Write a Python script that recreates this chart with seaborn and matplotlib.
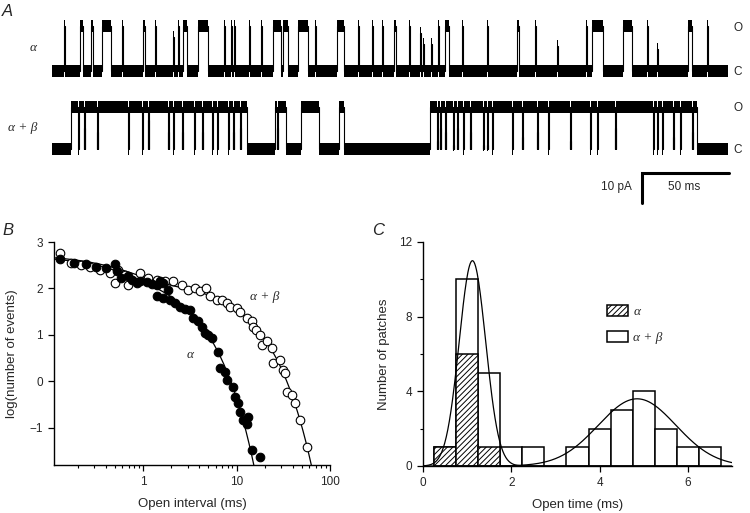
import numpy as np
import matplotlib
matplotlib.use('Agg')
import matplotlib.pyplot as plt
import seaborn as sns
from matplotlib.patches import Patch
from matplotlib.ticker import LogLocator, NullFormatter, FixedLocator
from matplotlib.font_manager import FontProperties

sns.set_theme(style='ticks')
plt.rcParams['font.family'] = ['Liberation Sans', 'DejaVu Sans']
plt.rcParams['hatch.linewidth'] = 0.7

# ---------------- Panel A: single channel records (ms, fraction of unitary current)
trace_len = 388.5
# alpha: brief openings (time, fraction open) and longer openings (start, end)
alpha_spike_t = [6.9, 40.2, 59.2, 69.5, 72.4, 98.9, 102.9, 104.6, 113.2, 120.1, 151.1,
                 175.9, 183.9, 189.7, 205.2, 211.5, 213.2, 217.8, 221.8, 235.6, 250.0,
                 277.6, 290.2, 306.9, 341.9, 347.7, 376.4]
alpha_spike_h = [1, 1, 1, 0.75, 1, 1, 1, 1, 1, 1, 1,
                 1, 1, 1, 1, 0.85, 0.6, 0.6, 1, 1, 1,
                 1, 0.55, 1, 1, 0.5, 1]
alpha_bursts = [(16.1, 17.8), (22.4, 23.6), (28.7, 33.9), (52.3, 53.4), (75.3, 77.6),
                (83.9, 89.7), (127.0, 131.6), (132.8, 135.6), (141.4, 147.1),
                (163.8, 167.8), (196.6, 197.7), (225.9, 228.2), (267.2, 268.4),
                (310.3, 316.7), (328.2, 333.3), (365.5, 367.8)]
# alpha + beta: long openings (start, end) and brief closures (time, depth)
ab_open = [(10.9, 112.1), (128.2, 134.5), (143.1, 153.4), (164.9, 167.8), (217.2, 370.7)]
ab_close_t = [14.9, 18.4, 25.9, 43.7, 51.7, 55.2, 66.7, 69.5, 74.7, 81.6,
              86.2, 92.0, 94.8, 101.1, 104.0, 108.0, 129.3, 221.3, 223.0, 225.9,
              230.5, 232.8, 236.2, 240.2, 247.7, 250.0, 252.9, 264.4, 270.1, 278.7,
              285.1, 297.7, 309.2, 313.2, 323.6, 345.4, 347.7, 350.6, 356.9, 360.9,
              367.8]
ab_close_d = [1, 0.5, 0.6, 1, 1, 0.3, 0.6, 1, 0.6, 1,
              0.6, 1, 1, 1, 0.6, 0.5, 0.5, 0.8, 0.5, 0.6,
              0.9, 0.5, 1, 0.6, 0.9, 0.9, 1, 1, 0.7, 0.6,
              1, 0.8, 1, 1, 0.5, 1, 1, 1, 0.7, 1,
              0.6]

# ---------------- Panel B: open interval distributions
alpha_t = [0.128, 0.18, 0.243, 0.316, 0.40, 0.497, 0.52, 0.586, 0.69, 0.75, 0.85, 0.92,
           1.09, 1.23, 1.39, 1.51, 1.64, 1.85, 1.39, 1.64, 1.93, 2.18, 2.47, 2.79, 3.16,
           3.43, 3.88, 4.22, 4.58, 4.97, 5.39, 6.35, 6.62, 7.47, 7.8, 9.2, 9.6, 10.4,
           10.8, 11.8, 13.3, 12.8, 14.5, 17.8]
alpha_logn = [2.63, 2.55, 2.53, 2.47, 2.45, 2.53, 2.37, 2.22, 2.27, 2.19, 2.12, 2.15,
              2.13, 2.10, 2.08, 2.15, 2.12, 1.97, 1.83, 1.79, 1.76, 1.68, 1.61, 1.55, 1.53,
              1.36, 1.29, 1.18, 1.04, 1.00, 0.93, 0.64, 0.28, 0.21, 0.03, -0.12, -0.33, -0.47,
              -0.65, -0.83, -0.76, -0.91, -1.48, -1.63]
ab_t = [0.128, 0.17, 0.218, 0.268, 0.344, 0.44, 0.54, 0.636, 0.497, 0.69, 0.92, 1.13,
        1.39, 1.71, 2.1, 2.58, 3.04, 3.58, 4.05, 4.65, 5.18, 6.1, 6.9, 7.8, 8.5, 10.0,
        10.8, 12.8, 14.5, 15.1, 16.3, 17.8, 18.5, 21.0, 23.7, 24.6, 29.0, 31.6, 32.8,
        34.3, 38.9, 42.1, 47.6, 56.3]
ab_logn = [2.76, 2.55, 2.51, 2.47, 2.40, 2.33, 2.40, 2.29, 2.12, 2.08, 2.33, 2.22,
           2.19, 2.15, 2.15, 2.08, 1.97, 2.01, 1.94, 2.01, 1.83, 1.76, 1.76, 1.68, 1.61, 1.58,
           1.50, 1.36, 1.29, 1.18, 1.11, 1.00, 0.78, 0.86, 0.71, 0.39, 0.46, 0.24, 0.17,
           -0.22, -0.29, -0.47, -0.83, -1.41]
# two-exponential fits: amplitude (events), time constant (ms)
alpha_fit = [(294, 0.38), (224, 1.6)]
ab_fit = [(394, 0.48), (148, 6.9)]

# ---------------- Panel C: mean open time per patch
ab_edges = [0.25, 0.75, 1.25, 1.75, 2.25, 2.75, 3.25, 3.75, 4.25, 4.75, 5.25, 5.75, 6.25, 6.75]
ab_centers = [0.5, 1.0, 1.5, 2.0, 2.5, 3.0, 3.5, 4.0, 4.5, 5.0, 5.5, 6.0, 6.5]
ab_counts = [1, 10, 5, 1, 1, 0, 1, 2, 3, 4, 2, 1, 1]
alpha_edges = [0.25, 0.75, 1.25, 1.75]
alpha_centers = [0.5, 1.0, 1.5]
alpha_counts = [1, 6, 1]
# gaussian fits: (amplitude, mean, sd)
gauss_fits = [(11.0, 1.12, 0.30), (3.6, 4.85, 0.88)]

W, H = 750, 513
fig = plt.figure(figsize=(W / 100, H / 100), dpi=100)


def fpos(x, y):
    return x / W, 1 - y / H


def build_path(pieces, t_end):
    xs, ys = [0.0], [0.0]
    for s, e, lv in pieces:
        xs += [s, e]
        ys += [lv, 0.0]
    xs.append(t_end)
    ys.append(0.0)
    return np.array(xs), np.array(ys)


dur = 0.6
pieces1 = [(t, t + dur, h) for t, h in zip(alpha_spike_t, alpha_spike_h)]
pieces1 += [(s, e, 1.0) for s, e in alpha_bursts]
pieces1.sort()

pieces2 = []
closures = sorted(zip(ab_close_t, ab_close_d))
for s, e in ab_open:
    cur = s
    for t, d in closures:
        if s < t < e:
            pieces2.append((cur, t, 1.0))
            pieces2.append((t, t + dur, 1.0 - d))
            cur = t + dur
    pieces2.append((cur, e, 1.0))

axA = fig.add_axes([52 / W, 1 - 210 / H, 676 / W, 210 / H])
axA.set_xlim(0, trace_len)
axA.set_ylim(-46.3, 23.7)
axA.axis('off')

noise = 2.0
for pieces, base, amp in [(pieces1, 0.0, 15.0), (pieces2, -26.0, 14.0)]:
    x, lv = build_path(pieces, trace_len)
    y = base + amp * lv
    axA.fill_between(x, y - noise, y + noise, step='post', color='black', lw=0)
    axA.step(x, y, where='post', color='black', lw=0.8)

# scale bar 50 ms / 10 pA
axA.plot([339, 339, 389], [-44, -34, -34], color='black', lw=2.2,
         solid_joinstyle='miter', clip_on=False)
axA.text(333, -38.5, '10 pA', ha='right', va='center', fontsize=8.5)
axA.text(363, -38.5, '50 ms', ha='center', va='center', fontsize=8.5)

greek = FontProperties(family='Liberation Serif', style='italic', size=9.5)
fig.text(*fpos(37, 48), 'α', ha='right', va='center', fontproperties=greek)
fig.text(*fpos(37, 128), 'α + β', ha='right', va='center', fontproperties=greek)
for yy, s in [(28, 'O'), (72, 'C'), (108, 'O'), (150, 'C')]:
    fig.text(*fpos(738, yy), s, ha='center', va='center', fontsize=8.5)

for xx, yy, s in [(2, 12, 'A'), (2, 231, 'B'), (372, 231, 'C')]:
    fig.text(*fpos(xx, yy), s, ha='left', va='center', fontsize=12, style='italic')

# ---------------- Panel B
axB = fig.add_axes([54 / W, 1 - 465 / H, 276 / W, 223 / H])
sns.scatterplot(x=ab_t, y=ab_logn, ax=axB, color='white', edgecolor='black',
                s=38, linewidth=0.8, zorder=3)
sns.scatterplot(x=alpha_t, y=alpha_logn, ax=axB, color='black', edgecolor='black',
                s=38, linewidth=0.8, zorder=4)
t_fit = np.geomspace(0.11, 100, 400)
for fit in [alpha_fit, ab_fit]:
    n = sum(a * np.exp(-t_fit / tau) for a, tau in fit)
    axB.plot(t_fit, np.log10(n), color='black', lw=0.9, zorder=2)
axB.set_xscale('log')
axB.set_xlim(0.111, 100)
axB.set_ylim(-1.8, 3.0)
axB.set_xticks([1, 10, 100])
axB.set_xticklabels(['1', '10', '100'])
axB.xaxis.set_minor_locator(LogLocator(base=10, subs=[2, 3, 4, 5, 6, 7, 8, 9]))
axB.xaxis.set_minor_formatter(NullFormatter())
axB.set_yticks([-1, 0, 1, 2, 3])
axB.set_xlabel('Open interval (ms)', fontsize=9.5, labelpad=7)
axB.set_ylabel('log(number of events)', fontsize=9.5, labelpad=8)
axB.text(3.2, 0.56, 'α', fontproperties=greek, ha='center', va='center')
axB.text(19.8, 1.81, 'α + β', fontproperties=greek, ha='center', va='center')

# ---------------- Panel C
axC = fig.add_axes([423 / W, 1 - 466 / H, 309 / W, 224 / H])
sns.histplot(x=ab_centers, weights=ab_counts, bins=ab_edges, ax=axC, color='white',
             edgecolor='black', linewidth=1.1, alpha=1)
n0 = len(axC.patches)
sns.histplot(x=alpha_centers, weights=alpha_counts, bins=alpha_edges, ax=axC,
             color='white', edgecolor='black', linewidth=1.1, alpha=1)
for p in axC.patches[n0:]:
    p.set_hatch('//////')
x_fit = np.linspace(0.0, 7.0, 400)
for amp, mu, sd in gauss_fits:
    axC.plot(x_fit, amp * np.exp(-(x_fit - mu) ** 2 / (2 * sd ** 2)), color='black', lw=0.9)
axC.set_xlim(0, 7)
axC.set_ylim(0, 12)
axC.set_xticks([0, 2, 4, 6])
axC.set_yticks([0, 4, 8, 12])
axC.yaxis.set_minor_locator(FixedLocator([2, 6, 10]))
axC.set_xlabel('Open time (ms)', fontsize=9.5, labelpad=7)
axC.set_ylabel('Number of patches', fontsize=9.5, labelpad=6)
handles = [Patch(facecolor='white', edgecolor='black', hatch='//////', lw=1.1, label='α'),
           Patch(facecolor='white', edgecolor='black', lw=1.1, label='α + β')]
axC.legend(handles=handles, loc='upper left', bbox_to_anchor=(0.595, 0.72), frameon=False,
           prop=greek, handlelength=1.6, handleheight=0.9, labelspacing=1.0,
           handletextpad=0.4, borderpad=0, borderaxespad=0)

for ax in [axB, axC]:
    sns.despine(ax=ax)
    for sp in ['left', 'bottom']:
        ax.spines[sp].set_linewidth(1.0)
        ax.spines[sp].set_color('black')
    ax.tick_params(which='major', direction='out', length=4, width=0.9, labelsize=8.5,
                   color='black', pad=4)
    ax.tick_params(which='minor', direction='out', length=2.5, width=0.8, color='black')

fig.savefig('out.png', dpi=100)
